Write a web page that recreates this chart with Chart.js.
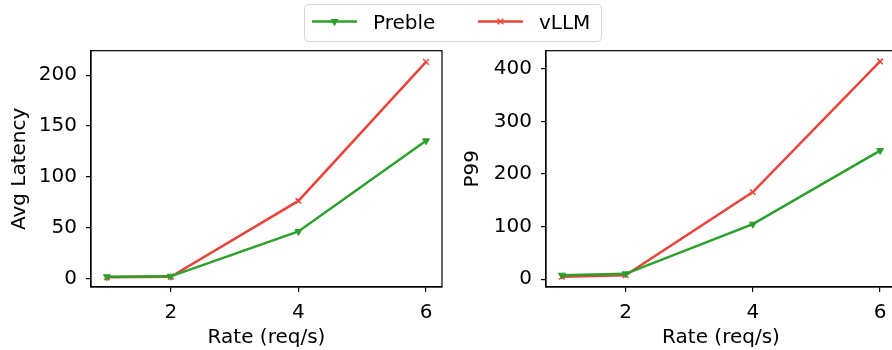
<!DOCTYPE html>
<html>
<head>
<meta charset="utf-8">
<script src="https://cdn.jsdelivr.net/npm/chart.js@4.4.0/dist/chart.umd.min.js"></script>
<style>
  body { margin: 0; width: 892px; height: 350px; overflow: hidden; background: #fff; position: relative; }
  canvas { position: absolute; top: 0; }
  #avgChart { left: 0; }
  #p99Chart { left: 446px; }
</style>
</head>
<body>
<canvas id="avgChart" width="892" height="350"></canvas>
<canvas id="p99Chart" width="490" height="350"></canvas>
<script>
// data
const rates = [1, 2, 4, 6]
const xTicks = [2, 4, 6]
const prebleAvg = [2, 2.5, 46.5, 135.5]
const vllmAvg = [1.5, 2, 76.5, 213]
const prebleP99 = [7.5, 10, 104.5, 244.5]
const vllmP99 = [4.5, 7.5, 165.5, 414]
const avgTicks = [0, 50, 100, 150, 200]
const p99Ticks = [0, 100, 200, 300, 400]
const seriesNames = ["Preble", "vLLM"]

const GREEN = "#2ca02c"
const RED = "#e8453a"

Chart.defaults.font.family = "'DejaVu Sans', sans-serif"
Chart.defaults.font.size = 20
Chart.defaults.color = "#000"

function pts(ys) {
    return rates.map((x, i) => ({ x: x, y: ys[i] }))
}

function makeDatasets(a, b) {
    return [
        { label: seriesNames[0], data: pts(a), borderColor: GREEN, backgroundColor: GREEN, borderWidth: 2.5,
          pointStyle: 'triangle', rotation: 180, pointRadius: 4, pointBorderWidth: 1 },
        { label: seriesNames[1], data: pts(b), borderColor: RED, backgroundColor: RED, borderWidth: 2.5,
          pointStyle: 'crossRot', pointRadius: 4, pointBorderWidth: 1.5 },
    ]
}

// box around the plot area like matplotlib spines
const frame = {
    id: 'frame',
    afterDraw(chart) {
        const { ctx, chartArea: a } = chart
        ctx.save()
        ctx.strokeStyle = '#000'
        ctx.lineWidth = 1.2
        ctx.strokeRect(a.left, a.top, a.right - a.left, a.bottom - a.top)
        ctx.restore()
    }
}

function marker(ctx, ds, x, y) {
    ctx.fillStyle = ds.borderColor
    ctx.strokeStyle = ds.borderColor
    ctx.lineWidth = ds.pointBorderWidth
    Chart.helpers.drawPoint(ctx, { pointStyle: ds.pointStyle, rotation: ds.rotation || 0, radius: ds.pointRadius, borderWidth: ds.pointBorderWidth }, x, y)
}

// shared legend drawn on the left canvas, centred over both plots
const sharedLegend = {
    id: 'sharedLegend',
    afterDraw(chart) {
        const ctx = chart.ctx
        const sets = chart.data.datasets
        ctx.save()
        ctx.beginPath()
        ctx.roundRect(304.5, 4.5, 297, 37, 4)
        ctx.fillStyle = '#fff'
        ctx.fill()
        ctx.strokeStyle = '#d6d6d6'
        ctx.lineWidth = 1
        ctx.stroke()
        const starts = [312, 478]
        sets.forEach((ds, i) => {
            const x0 = starts[i]
            ctx.strokeStyle = ds.borderColor
            ctx.lineWidth = 2.5
            ctx.beginPath()
            ctx.moveTo(x0, 21.5)
            ctx.lineTo(x0 + 45, 21.5)
            ctx.stroke()
            marker(ctx, ds, x0 + 22.5, 21.5)
            ctx.fillStyle = '#000'
            ctx.font = "20px 'DejaVu Sans'"
            ctx.textBaseline = 'alphabetic'
            ctx.fillText(ds.label, x0 + 61, 28.5)
        })
        ctx.restore()
    }
}

function makeChart(id, a, b, yTicks, yMin, yMax, yTitle, yWidth, titlePad, padRight, extra) {
    return new Chart(document.getElementById(id), {
        type: 'line',
        data: { datasets: makeDatasets(a, b) },
        options: {
            responsive: false,
            animation: false,
            devicePixelRatio: 1,
            layout: { padding: { top: 50.7, right: padRight, bottom: 0, left: 0 } },
            plugins: { legend: { display: false }, tooltip: { enabled: false } },
            scales: {
                x: {
                    type: 'linear', min: 0.75, max: 6.25,
                    afterBuildTicks: s => { s.ticks = xTicks.map(v => ({ value: v })) },
                    afterFit: s => { s.height = 63 },
                    grid: { drawOnChartArea: false, drawTicks: true, tickLength: 5, color: '#000', lineWidth: 1.2 },
                    border: { display: true, color: '#000', width: 1.2 },
                    ticks: { color: '#000', padding: 9, maxRotation: 0, autoSkip: false },
                    title: { display: true, text: 'Rate (req/s)', color: '#000', padding: { top: 0, bottom: 0 } }
                },
                y: {
                    type: 'linear', min: yMin, max: yMax,
                    afterBuildTicks: s => { s.ticks = yTicks.map(v => ({ value: v })) },
                    afterFit: s => { s.width = yWidth },
                    grid: { drawOnChartArea: false, drawTicks: true, tickLength: 5, color: '#000', lineWidth: 1.2 },
                    border: { display: true, color: '#000', width: 1.2 },
                    ticks: { color: '#000', padding: 9, autoSkip: false },
                    title: { display: true, text: yTitle, color: '#000', padding: { top: titlePad, bottom: 0 } }
                }
            }
        },
        plugins: extra
    })
}

makeChart('avgChart', prebleAvg, vllmAvg, avgTicks, -8, 224, 'Avg Latency', 91, 7.5, 450, [frame, sharedLegend])
// right plot runs a few pixels past the window edge, as in the reference
makeChart('p99Chart', prebleP99, vllmP99, p99Ticks, -15, 434.5, 'P99', 100, 15, 40, [frame])
</script>
</body>
</html>
